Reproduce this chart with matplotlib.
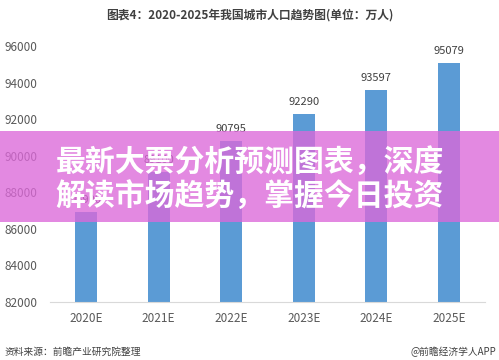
import matplotlib.pyplot as plt
from matplotlib.patches import Rectangle

plt.rcParams['font.family'] = ['Noto Sans CJK SC', 'DejaVu Sans']

# 数据
years = ['2020E', '2021E', '2022E', '2023E', '2024E', '2025E']
population = [86900, 89100, 90795, 92290, 93597, 95079]
y_ticks = [82000, 84000, 86000, 88000, 90000, 92000, 94000, 96000]

title = '图表4：2020-2025年我国城市人口趋势图(单位：万人)'
source = '资料来源：前瞻产业研究院整理'
credit = '@前瞻经济学人APP'
banner_lines = ['最新大票分析预测图表，深度', '解读市场趋势，掌握今日投资']

fig = plt.figure(figsize=(4.99, 3.6), dpi=100)
ax = fig.add_axes([0.10, 0.161, 0.872, 0.711])

x = range(len(years))
ax.bar(x, population, width=0.3, color='#5B9BD5', zorder=2)
for xi, v in zip(x, population):
    ax.text(xi, v + 400, str(v), ha='center', va='bottom', fontsize=8, color='#404040')

ax.set_ylim(82000, 96000)
ax.set_xlim(-0.5, len(years) - 0.5)
ax.set_yticks(y_ticks)
ax.set_xticks(list(x))
ax.set_xticklabels(years)
ax.tick_params(axis='both', length=0, labelsize=8.5, colors='#595959')
ax.tick_params(axis='y', pad=9)
ax.tick_params(axis='x', pad=7)
for s in ['top', 'right', 'left']:
    ax.spines[s].set_visible(False)
ax.spines['bottom'].set_color('#D9D9D9')

fig.text(0.5, 0.958, title, ha='center', va='center', fontsize=8.5,
         fontweight='bold', color='#404040')
fig.text(0.01, 0.022, source, ha='left', va='center', fontsize=7, color='#404040')
fig.text(0.995, 0.022, credit, ha='right', va='center', fontsize=7, color='#404040')

# 覆盖横幅
fig.patches.append(Rectangle((0, 0.383), 1, 0.253, transform=fig.transFigure,
                             facecolor='#DC68D9', alpha=0.78, edgecolor='none', zorder=5))
fig.text(0.5, 0.549, banner_lines[0], ha='center', va='center', fontsize=21.5,
         fontweight='bold', color='white', zorder=6)
fig.text(0.5, 0.452, banner_lines[1], ha='center', va='center', fontsize=21.5,
         fontweight='bold', color='white', zorder=6)

fig.savefig('out.png', dpi=100)
